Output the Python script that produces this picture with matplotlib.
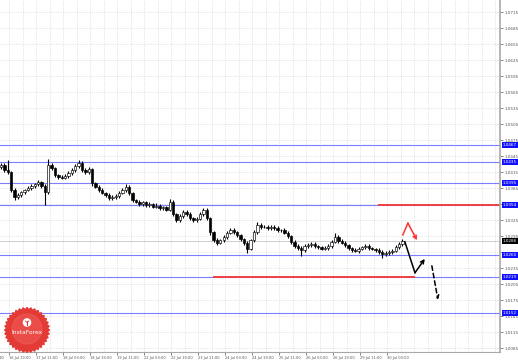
import matplotlib.pyplot as plt
import numpy as np

# H2 candles (close prices), first open given separately
first_open = 1.0425
closes = [
    1.0429, 1.0420, 1.0416, 1.0382, 1.0369, 1.0373, 1.0378, 1.0382, 1.0386, 1.0390,
    1.0393, 1.0397, 1.0390, 1.0378, 1.0429, 1.0423, 1.0410, 1.0407, 1.0405, 1.0408,
    1.0414, 1.0420, 1.0427, 1.0433, 1.0420, 1.0416, 1.0422, 1.0395, 1.0388, 1.0382,
    1.0377, 1.0373, 1.0367, 1.0369, 1.0371, 1.0377, 1.0382, 1.0388, 1.0377, 1.0363,
    1.0360, 1.0356, 1.0359, 1.0354, 1.0356, 1.0351, 1.0353, 1.0348, 1.0350, 1.0345,
    1.0360, 1.0337, 1.0326, 1.0333, 1.0341, 1.0337, 1.0330, 1.0326, 1.0328, 1.0337,
    1.0345, 1.0330, 1.0303, 1.0288, 1.0283, 1.0288, 1.0294, 1.0302, 1.0307, 1.0303,
    1.0298, 1.0290, 1.0283, 1.0272, 1.0288, 1.0303, 1.0317, 1.0313, 1.0313, 1.0311,
    1.0313, 1.0311, 1.0307, 1.0307, 1.0302, 1.0296, 1.0285, 1.0277, 1.0273, 1.0270,
    1.0277, 1.0279, 1.0281, 1.0277, 1.0275, 1.0272, 1.0273, 1.0277, 1.0285, 1.0294,
    1.0287, 1.0283, 1.0279, 1.0273, 1.0270, 1.0268, 1.0272, 1.0275, 1.0277, 1.0273,
    1.0272, 1.0270, 1.0266, 1.0262, 1.0264, 1.0266, 1.0268, 1.0275, 1.0281, 1.0286,
]
# wick lengths in pips above/below the body
up_wick = [
    4, 3, 18, 2, 3, 4, 3, 2, 4, 3,
    3, 4, 2, 3, 11, 4, 3, 2, 3, 4,
    3, 4, 3, 5, 3, 4, 3, 2, 3, 4,
    3, 2, 3, 4, 3, 3, 4, 5, 3, 2,
    3, 4, 2, 3, 3, 2, 4, 3, 2, 3,
    5, 3, 2, 4, 3, 4, 3, 2, 3, 4,
    4, 3, 2, 3, 4, 3, 4, 3, 4, 3,
    3, 2, 3, 4, 3, 4, 5, 3, 4, 3,
    4, 3, 3, 2, 3, 4, 2, 3, 3, 4,
    3, 4, 3, 3, 2, 3, 4, 3, 4, 8,
    3, 4, 3, 2, 3, 3, 4, 3, 4, 3,
    3, 2, 3, 3, 4, 3, 3, 4, 3, 4,
]
down_wick = [
    3, 4, 3, 4, 5, 3, 4, 3, 2, 3,
    4, 3, 4, 24, 3, 4, 3, 4, 3, 2,
    3, 3, 4, 3, 4, 3, 4, 5, 3, 4,
    3, 4, 3, 3, 4, 3, 2, 3, 4, 3,
    3, 4, 3, 3, 4, 3, 3, 4, 3, 3,
    3, 4, 4, 3, 4, 3, 4, 3, 4, 3,
    3, 4, 5, 4, 4, 3, 4, 3, 3, 4,
    4, 3, 4, 8, 3, 4, 3, 4, 3, 4,
    3, 4, 3, 4, 3, 3, 4, 3, 4, 12,
    4, 3, 4, 3, 4, 3, 3, 4, 3, 3,
    4, 3, 4, 3, 4, 3, 4, 3, 3, 4,
    3, 4, 3, 7, 3, 4, 3, 3, 4, 3,
]

time_labels = [
    "16 Jul 03:00", "16 Jul 19:00", "17 Jul 11:00", "18 Jul 03:00",
    "18 Jul 19:00", "19 Jul 11:00", "22 Jul 03:00", "22 Jul 19:00",
    "23 Jul 11:00", "24 Jul 03:00", "24 Jul 19:00", "25 Jul 11:00",
    "26 Jul 03:00", "26 Jul 19:00", "29 Jul 11:00", "30 Jul 03:00",
]
price_labels = [
    "1.0715", "1.0685", "1.0655", "1.0625", "1.0595", "1.0565", "1.0535",
    "1.0505", "1.0475", "1.0445", "1.0415", "1.0385", "1.0355", "1.0325",
    "1.0295", "1.0265", "1.0235", "1.0205", "1.0175", "1.0145", "1.0115",
    "1.0085",
]

levels = [1.0467, 1.0435, 1.0395, 1.0354, 1.0260, 1.0219, 1.0152]
red_levels = [1.0354, 1.0219]
red_start = [111.7, 62.8]
red_end = [148.0, 122.7]
current_price = 1.0286

# forecast sketches (candle index, price)
red_path_x = [119.1, 120.6, 123.3]
red_path_y = [1.0298, 1.0320, 1.0288]
black_path_x = [119.7, 122.7, 125.6]
black_path_y = [1.0285, 1.0227, 1.0253]
dash_path_x = [127.7, 129.5]
dash_path_y = [1.0240, 1.0176]

W, H = 518, 360
fig = plt.figure(figsize=(W / 100, H / 100), dpi=100)
fig.patch.set_facecolor("white")
ax = fig.add_axes([0, 8 / H, 500 / W, 352 / H])

n = len(closes)

# grid
tick_pos = np.arange(len(time_labels)) * 8 - 5.5
for gx in np.arange(-5.5, 148, 4):
    ax.axvline(gx, color="#d0d0d0", lw=0.5, ls=(0, (1, 1.5)), zorder=0)
price_vals = [float(p) for p in price_labels]
for gy in price_vals:
    ax.axhline(gy, color="#d0d0d0", lw=0.5, ls=(0, (1, 1.5)), zorder=0)

# levels
for lv in levels:
    ax.axhline(lv, color="#7d7dff", lw=0.8, zorder=1)
for lv, a, b in zip(red_levels, red_start, red_end):
    ax.plot([a, b], [lv, lv], color="#f04040", lw=1.4, zorder=2, solid_capstyle="butt")
ax.axhline(current_price, color="#c8c8c8", lw=0.6, zorder=1)

# candles
opens = [first_open] + closes[:-1]
for i in range(n):
    o, c = opens[i], closes[i]
    hi = max(o, c) + up_wick[i] * 0.0001
    lo = min(o, c) - down_wick[i] * 0.0001
    ax.vlines(i, lo, hi, color="black", lw=0.8, zorder=3)
    body = max(abs(c - o), 0.00005)
    ax.bar(i, body, bottom=min(o, c), width=0.7,
           color="white" if c > o else "black", edgecolor="black", lw=0.45, zorder=4)

# forecast arrows
arrow_kw = dict(arrowstyle="->", mutation_scale=6, shrinkA=0, shrinkB=0)
ax.plot(red_path_x[:-1], red_path_y[:-1], color="#ff3030", lw=1.1, zorder=5)
ax.annotate("", xy=(red_path_x[-1], red_path_y[-1]), xytext=(red_path_x[-2], red_path_y[-2]),
            arrowprops=dict(color="#ff3030", lw=1.1, **arrow_kw), zorder=5)
ax.plot(black_path_x[:-1], black_path_y[:-1], color="black", lw=1.1, zorder=5)
ax.annotate("", xy=(black_path_x[-1], black_path_y[-1]), xytext=(black_path_x[-2], black_path_y[-2]),
            arrowprops=dict(color="black", lw=1.1, **arrow_kw), zorder=5)
ax.annotate("", xy=(dash_path_x[-1], dash_path_y[-1]), xytext=(dash_path_x[0], dash_path_y[0]),
            arrowprops=dict(color="black", lw=1.1, linestyle=(0, (3, 2)), **arrow_kw), zorder=5)

# axes styling
for s in ["top", "left"]:
    ax.spines[s].set_visible(False)
ax.spines["right"].set_color("#a8a8a8")
ax.spines["right"].set_linewidth(1.2)
ax.spines["bottom"].set_color("#a8a8a8")
ax.spines["bottom"].set_linewidth(0.8)
ax.yaxis.tick_right()
ax.set_yticks(price_vals)
# labels hidden under a price tag are left blank, as on the terminal
shown = [p if min(abs(float(p) - lv) for lv in levels) > 0.0006 else "" for p in price_labels]
ax.set_yticklabels(shown, fontsize=3, color="#333333")
ax.tick_params(axis="y", length=2, width=0.5, pad=1.5, colors="#555555")
ax.set_xticks(tick_pos[1:])
ax.set_xticklabels(time_labels[1:], fontsize=2.6, color="#333333")
for t in ax.get_xticklabels():
    t.set_horizontalalignment("left")
ax.tick_params(axis="x", length=2, width=0.5, pad=0.8, colors="#555555")
# limits last, so the ticks do not widen them
ax.set_xlim(-0.3, 147.9)
ax.set_ylim(1.00784, 1.07384)
# first time label sits mostly off the left edge
ax.text(tick_pos[0], -0.012, time_labels[0], transform=ax.get_xaxis_transform(),
        fontsize=2.6, color="#333333", ha="left", va="top", clip_on=False)

# price tags
tr = ax.get_yaxis_transform()
for lv in levels:
    ax.text(1.006, lv, f"{lv:.4f}", transform=tr, fontsize=3, color="white", va="center",
            ha="left", clip_on=False, zorder=10,
            bbox=dict(boxstyle="square,pad=0.25", fc="#1010ff", ec="none"))
ax.text(1.006, current_price, f"{current_price:.4f}", transform=tr, fontsize=3, color="white",
        va="center", ha="left", clip_on=False, zorder=10,
        bbox=dict(boxstyle="square,pad=0.25", fc="black", ec="none"))

# InstaForex badge
lg = fig.add_axes([0, 4 / H, 56 / W, 56 / H])
lg.set_xlim(0, 56)
lg.set_ylim(0, 56)
lg.axis("off")
ang = np.linspace(0, 2 * np.pi, 72, endpoint=False)
rad = np.where(np.arange(72) % 2 == 0, 22.5, 20.3)
lg.fill(27 + rad * np.cos(ang), 26 + rad * np.sin(ang), color="#e33a36", zorder=1)
lg.add_patch(plt.Circle((27, 27), 15, color="#ef5b55", alpha=0.6, zorder=2))
lg.add_patch(plt.Circle((27, 33.5), 3.6, color="white", zorder=3))
lg.plot([27, 27], [31, 35], color="#e33a36", lw=0.8, zorder=4)
lg.plot([25.5, 27, 28.5], [35, 33.5, 35], color="#e33a36", lw=0.6, zorder=4)
lg.text(27, 23, "InstaForex", color="white", fontsize=4.3, ha="center", va="center", zorder=4)

fig.savefig("out.png", dpi=100)
